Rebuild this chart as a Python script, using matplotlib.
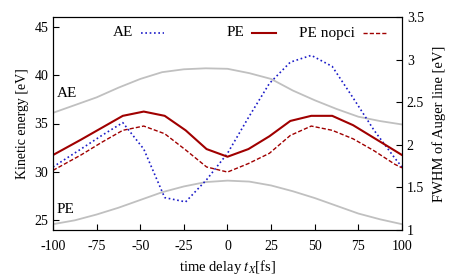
import matplotlib
matplotlib.use("Agg")
import matplotlib.pyplot as plt
from matplotlib.lines import Line2D

plt.rcParams['font.family'] = ['Liberation Serif', 'DejaVu Serif']
plt.rcParams['mathtext.fontset'] = 'stix'
plt.rcParams['font.size'] = 10
plt.rcParams['axes.unicode_minus'] = False

# kinetic energies (left axis), gray curves
t_ke = [-100, -87.5, -75, -62.5, -50, -37.5, -25, -12.5, 0, 12.5, 25, 37.5, 50, 62.5, 75, 87.5, 100]
ke_ae = [36.1, 36.9, 37.7, 38.7, 39.6, 40.3, 40.6, 40.7, 40.65, 40.2, 39.6, 38.4, 37.4, 36.5, 35.7, 35.25, 34.9]
ke_pe = [24.6, 25.0, 25.6, 26.3, 27.1, 27.9, 28.5, 28.95, 29.1, 29.0, 28.6, 28.0, 27.3, 26.5, 25.7, 25.1, 24.6]

# FWHM of Auger line (right axis)
t_fw = [-100, -84, -72, -60, -48, -36, -24, -12, 0, 12, 24, 36, 48, 60, 72, 84, 96, 100]
fw_ae = [1.74, 1.95, 2.11, 2.26, 1.95, 1.38, 1.33, 1.59, 1.90, 2.32, 2.72, 2.97, 3.05, 2.92, 2.55, 2.17, 1.84, 1.74]
fw_pe = [1.88, 2.06, 2.20, 2.34, 2.39, 2.34, 2.17, 1.95, 1.86, 1.95, 2.10, 2.28, 2.34, 2.34, 2.23, 2.08, 1.93, 1.88]
fw_nopci = [1.70, 1.88, 2.03, 2.17, 2.22, 2.13, 1.94, 1.74, 1.68, 1.78, 1.90, 2.11, 2.22, 2.17, 2.07, 1.93, 1.77, 1.73]

W, H = 464, 278
fig = plt.figure(figsize=(4.64, 2.78), dpi=100)
ax = fig.add_axes([53 / W, 1 - 230 / H, 349 / W, 213 / H])
ax2 = ax.twinx()

ax.plot(t_ke, ke_ae, color='#c0c0c0', lw=1.3)
ax.plot(t_ke, ke_pe, color='#c0c0c0', lw=1.3)
ax.text(-98, 38.1, 'AE', va='center', ha='left', fontsize=11)
ax.text(-98, 26.1, 'PE', va='center', ha='left', fontsize=11)

st_ae = dict(color='#1c1cc8', lw=1.2, ls=(0, (1, 1.6)))
st_pe = dict(color='#a00000', lw=1.5)
st_nopci = dict(color='#a00000', lw=1.0, ls=(0, (3, 1.5)))
ax2.plot(t_fw, fw_ae, **st_ae)
ax2.plot(t_fw, fw_pe, **st_pe)
ax2.plot(t_fw, fw_nopci, **st_nopci)

ax.set_xlim(-100, 100)
ax.set_ylim(24, 46)
ax2.set_ylim(1, 3.5)
ax.set_xticks([-100, -75, -50, -25, 0, 25, 50, 75, 100])
ax.set_yticks([25, 30, 35, 40, 45])
ax2.set_yticks([1, 1.5, 2, 2.5, 3, 3.5])
ax2.set_yticklabels(['1', '1.5', '2', '2.5', '3', '3.5'])

ax.tick_params(direction='in', length=4, width=0.8, top=False, right=False)
ax.tick_params(axis='x', pad=7)
ax2.tick_params(direction='in', length=4, width=0.8)

ax.set_xlabel('time delay $t_X$[fs]', labelpad=4, fontsize=10.5)
ax.set_ylabel('Kinetic energy [eV]', labelpad=4)
ax2.set_ylabel('FWHM of Auger line [eV]', labelpad=6, fontsize=10.5)

# legend in gnuplot style: right-aligned text, sample to the right
ly = 1 - 33 / H
for txt, x_end, s0, s1, st in [('AE', 133, 141, 164, st_ae),
                               ('PE', 244, 252, 276, st_pe),
                               ('PE nopci', 355, 363, 387, st_nopci)]:
    fig.text(x_end / W, ly, txt, ha='right', va='center', fontsize=11)
    fig.add_artist(Line2D([s0 / W, s1 / W], [ly, ly], transform=fig.transFigure, **st))

fig.savefig('out.png', dpi=100)
